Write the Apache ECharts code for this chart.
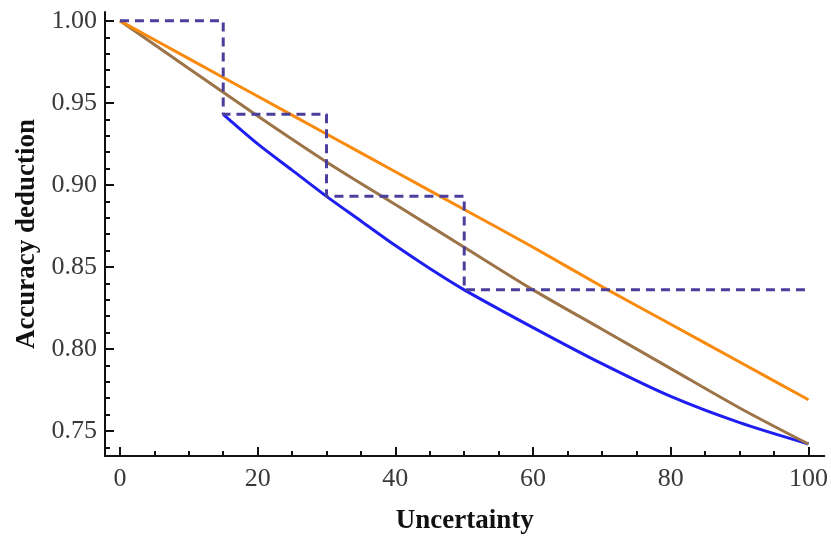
<!DOCTYPE html>
<html>
<head>
<meta charset="utf-8">
<script src="https://cdn.jsdelivr.net/npm/echarts@6/dist/echarts.min.js"></script>
<style>
  html, body { margin: 0; padding: 0; background: #fff; }
  #chart { width: 831px; height: 540px; }
</style>
</head>
<body>
<div id="chart"></div>
<script>
// values
const uncertainty = [0, 10, 20, 30, 40, 50, 60, 70, 80, 90, 100];
const orangeValues = [1.000, 0.977, 0.954, 0.931, 0.908, 0.885, 0.862, 0.838, 0.815, 0.792, 0.769];
const brownValues = [1.000, 0.971, 0.942, 0.914, 0.888, 0.862, 0.836, 0.812, 0.788, 0.764, 0.742];
const blueX = [15, 20, 25, 30, 35, 40, 45, 50, 60, 70, 80, 90, 100];
const blueValues = [0.943, 0.925, 0.909, 0.893, 0.878, 0.863, 0.849, 0.836, 0.813, 0.791, 0.771, 0.755, 0.742];
const stepX = [0, 15, 30, 50, 100];
const stepValues = [1.000, 0.943, 0.893, 0.836, 0.836];
const xTicks = [0, 20, 40, 60, 80, 100];
const yTicks = [0.75, 0.80, 0.85, 0.90, 0.95, 1.00];

const xMin = -2.17, xMax = 102.3;
const yMin = 0.7347, yMax = 1.0054;

const zip = (xs, ys) => xs.map((x, i) => [x, ys[i]]);

// minor ticks between majors
const xMinor = [];
for (let v = 5; v < 100; v += 5) if (v % 20 !== 0) xMinor.push(v);
const yMinor = [];
for (let i = 74; i < 100; i++) if (i % 5 !== 0) yMinor.push(i / 100);

const labelFont = { fontFamily: 'Liberation Serif', fontSize: 26, color: '#3a3a3a' };
const nameFont = { fontFamily: 'Liberation Serif', fontSize: 27, fontWeight: 'bold', color: '#111' };
const lineStyle = { color: '#111', width: 2 };

const chart = echarts.init(document.getElementById('chart'));

chart.setOption({
    animation: false,
    backgroundColor: '#fff',
    grid: { left: 105, right: 3, top: 12, bottom: 81 },
    xAxis: [
        {
            type: 'value', min: xMin, max: xMax,
            name: 'Uncertainty', nameLocation: 'middle', nameGap: 52, nameTextStyle: nameFont,
            axisLine: { show: true, onZero: false, lineStyle },
            axisTick: { show: true, inside: true, length: 9, customValues: xTicks, lineStyle },
            axisLabel: { show: true, margin: 10, customValues: xTicks, ...labelFont },
            splitLine: { show: false }
        },
        {
            type: 'value', min: xMin, max: xMax, position: 'bottom',
            axisLine: { show: false, onZero: false },
            axisTick: { show: true, inside: true, length: 5, customValues: xMinor, lineStyle },
            axisLabel: { show: false },
            splitLine: { show: false }
        }
    ],
    yAxis: [
        {
            type: 'value', min: yMin, max: yMax,
            name: 'Accuracy deduction', nameLocation: 'middle', nameGap: 63, nameTextStyle: nameFont,
            axisLine: { show: true, onZero: false, lineStyle },
            axisTick: { show: true, inside: true, length: 9, customValues: yTicks, lineStyle },
            axisLabel: { show: true, margin: 8, customValues: yTicks, formatter: v => v.toFixed(2), ...labelFont },
            splitLine: { show: false }
        },
        {
            type: 'value', min: yMin, max: yMax, position: 'left',
            axisLine: { show: false, onZero: false },
            axisTick: { show: true, inside: true, length: 5, customValues: yMinor, lineStyle },
            axisLabel: { show: false },
            splitLine: { show: false }
        }
    ],
    series: [
        {
            type: 'line', data: zip(blueX, blueValues), smooth: 0.3, showSymbol: false,
            lineStyle: { color: '#1e1ef2', width: 3 }
        },
        {
            type: 'line', data: zip(uncertainty, brownValues), smooth: 0.3, showSymbol: false,
            lineStyle: { color: '#9c7448', width: 3 }
        },
        {
            type: 'line', data: zip(uncertainty, orangeValues), smooth: 0.3, showSymbol: false,
            lineStyle: { color: '#f98a0c', width: 3 }
        },
        {
            type: 'line', data: zip(stepX, stepValues), step: 'end', showSymbol: false,
            lineStyle: { color: '#4a3f9c', width: 3, type: [9, 6] }
        }
    ]
});
</script>
</body>
</html>
